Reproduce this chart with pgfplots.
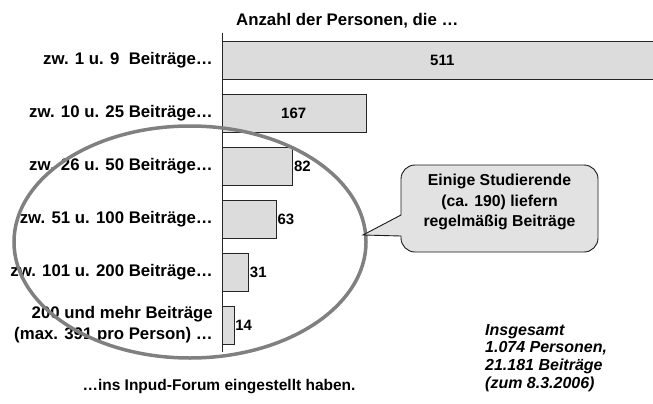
\documentclass[border=0pt]{standalone}
\usepackage{pgfplots}
\pgfplotsset{compat=1.18}
\usepackage{fontspec}
\setmainfont{Liberation Sans}
\definecolor{barfill}{HTML}{DCDCDC}
\definecolor{callfill}{HTML}{E2E2E2}
\definecolor{ellgray}{HTML}{808080}
\newcommand{\lab}{\fontsize{16.8bp}{21bp}\selectfont\bfseries}
\newcommand{\valfont}{\fontsize{15bp}{18bp}\selectfont\bfseries}
\newcommand{\callfont}{\fontsize{15.8bp}{20bp}\selectfont\bfseries}
\newcommand{\insfont}{\fontsize{16bp}{18bp}\selectfont\bfseries\itshape}
\begin{document}
\begin{tikzpicture}[x=1bp,y=1bp]
\useasboundingbox (0,0) rectangle (653,403);
\begin{axis}[
  at={(222bp,51bp)}, anchor=south west,
  scale only axis, width=431bp, height=319bp,
  xmin=0, xmax=499, ymin=-0.51, ymax=5.51, y dir=reverse,
  axis x line=none, axis y line=left,
  y axis line style={-, draw=black!85, line width=0.9bp},
  ytick={0,1,2,3,4,5},
  yticklabels={{zw. 1 u. 9~ Beiträge…},{zw. 10 u. 25 Beiträge…},{zw. 26 u. 50 Beiträge…},{zw. 51 u. 100 Beiträge…},{zw. 101 u. 200 Beiträge…},{200 und mehr Beiträge\\(max. 391 pro Person) …}},
  major tick length=0pt,
  yticklabel style={font=\lab, align=right, inner sep=0pt, xshift=-9bp},
  bar width=0.717,
]
\addplot[xbar, fill=barfill, draw=black!85, line width=0.9bp] coordinates {(511,0) (167,1) (82,2) (63,3) (31,4) (14,5)};
\addplot[draw=none, mark=none, nodes near coords, point meta=explicit symbolic,
  every node near coord/.style={anchor=center, font=\valfont, text=black}] coordinates {(255,0) [511] (83,1) [167]};
\addplot[draw=none, mark=none, nodes near coords, point meta=explicit symbolic,
  every node near coord/.style={anchor=west, inner sep=1bp, font=\valfont, text=black}] coordinates {(82,2) [82] (63,3) [63] (31,4) [31] (14,5) [14]};
\end{axis}
% title and notes
\node[anchor=base west, inner sep=0pt, font=\lab] at (236,378) {Anzahl der Personen, die …};
\node[anchor=base, inner sep=0pt, font=\fontsize{15.5bp}{18bp}\selectfont\bfseries] at (219,13) {…ins Inpud-Forum eingestellt haben.};
\node[anchor=base west, inner sep=0pt, font=\insfont] at (485,68) {Insgesamt};
\node[anchor=base west, inner sep=0pt, font=\insfont] at (485,50.3) {1.074 Personen,};
\node[anchor=base west, inner sep=0pt, font=\insfont] at (485,32.6) {21.181 Beiträge};
\node[anchor=base west, inner sep=0pt, font=\insfont] at (485,15) {(zum 8.3.2006)};
% ellipse
\draw[ellgray, line width=3.5bp] (190,161) ellipse [x radius=176, y radius=116];
% callout
\draw[fill=callfill, draw=black!90, line width=0.9bp]
  (415,238) -- (584,238) arc[start angle=90,end angle=0,radius=14]
  -- (598,165) arc[start angle=0,end angle=-90,radius=14]
  -- (415,151) arc[start angle=270,end angle=180,radius=14]
  -- (401,167) -- (363,168) -- (401,188)
  -- (401,224) arc[start angle=180,end angle=90,radius=14] -- cycle;
\node[anchor=base, inner sep=0pt, font=\callfont] at (499.5,218) {Einige Studierende};
\node[anchor=base, inner sep=0pt, font=\callfont] at (499.5,197) {(ca. 190) liefern};
\node[anchor=base, inner sep=0pt, font=\callfont] at (499.5,177) {regelmäßig Beiträge};
\end{tikzpicture}
\end{document}
